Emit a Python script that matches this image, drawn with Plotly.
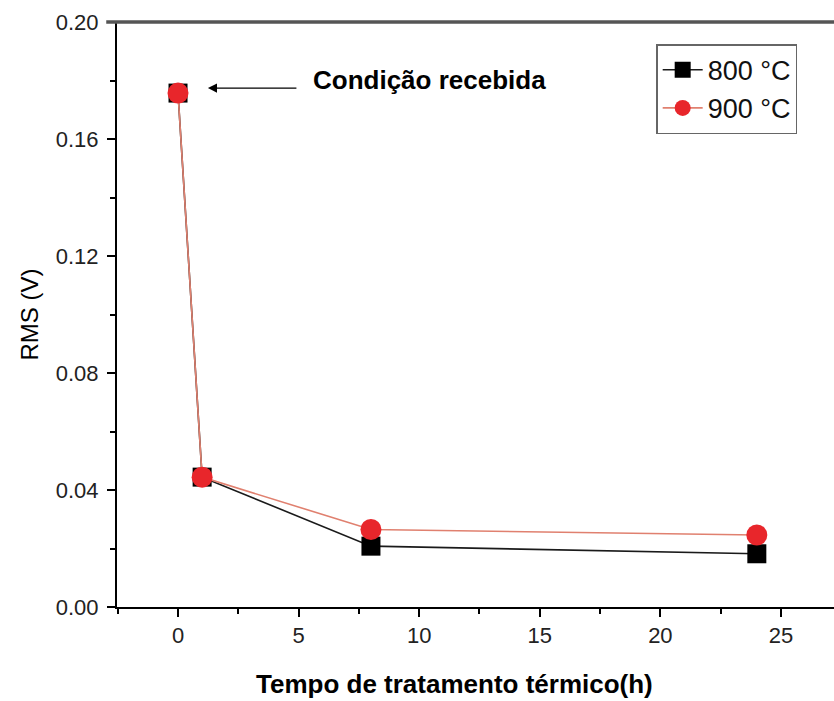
import plotly.graph_objects as go

time_h = [0, 1, 8, 24]
rms_800 = [0.1757, 0.0444, 0.0208, 0.0182]
rms_900 = [0.1757, 0.0444, 0.0265, 0.0246]
series_names = ["800 °C", "900 °C"]
x_ticks = [0, 5, 10, 15, 20, 25]
y_ticks = [0.00, 0.04, 0.08, 0.12, 0.16, 0.20]

FONT = "Liberation Sans, Arial"

fig = go.Figure()
fig.add_trace(go.Scatter(
    x=time_h, y=rms_800, name=series_names[0], mode="lines+markers",
    line=dict(color="#1a1a1a", width=1.6),
    marker=dict(symbol="square", size=19, color="black"),
))
fig.add_trace(go.Scatter(
    x=time_h, y=rms_900, name=series_names[1], mode="lines+markers",
    line=dict(color="#e0806f", width=1.6),
    marker=dict(symbol="circle", size=21, color="#e8262b"),
))

# arrow pointing at the received-condition point
fig.add_annotation(
    x=1.24, y=0.1774, xref="x", yref="y",
    ax=90, ay=0,
    text="", showarrow=True, arrowhead=2, arrowsize=1.4, arrowwidth=1.3,
    arrowcolor="black",
)
fig.add_annotation(
    x=5.5, y=0.1802, xref="x", yref="y", xanchor="left",
    text="<b>Condição recebida</b>", showarrow=False,
    font=dict(size=26, color="black", family=FONT),
)

# x-axis title (slightly left of plot centre, as in the original)
fig.add_annotation(
    x=0.471, y=-0.131, xref="paper", yref="paper", xanchor="center", yanchor="middle",
    text="<b>Tempo de tratamento térmico(h)</b>", showarrow=False,
    font=dict(size=26, color="black", family=FONT),
)

# top frame line
fig.add_shape(type="line", xref="paper", yref="paper", x0=-0.015, x1=1, y0=1, y1=1,
              line=dict(color="#555555", width=3.5))

fig.update_layout(
    width=834, height=701,
    margin=dict(l=117, r=0, t=22, b=94),
    plot_bgcolor="white", paper_bgcolor="white",
    font=dict(family=FONT, color="#222"),
    showlegend=True,
    legend=dict(x=0.752, y=0.962, xanchor="left", yanchor="top",
                bordercolor="#666", borderwidth=1.5, bgcolor="white",
                font=dict(size=27, color="#111", family=FONT), itemwidth=40,
                tracegroupgap=0),
    xaxis=dict(
        range=[-2.53, 27.2], tickvals=x_ticks, showgrid=False, zeroline=False,
        showline=True, linecolor="black", linewidth=2,
        ticks="outside", ticklen=8, tickwidth=2, tickcolor="black",
        minor=dict(ticks="outside", ticklen=5, tickwidth=2, dtick=2.5, tick0=0, tickcolor="black"),
        tickfont=dict(size=22, color="#222", family=FONT),
    ),
    yaxis=dict(
        range=[0, 0.2], tickvals=y_ticks, tickformat=".2f", showgrid=False, zeroline=False,
        showline=True, linecolor="black", linewidth=2,
        ticks="outside", ticklen=8, tickwidth=2, tickcolor="black",
        minor=dict(ticks="outside", ticklen=5, tickwidth=2, dtick=0.02, tick0=0, tickcolor="black"),
        tickfont=dict(size=22, color="#222", family=FONT),
        ticklabelstandoff=4,
        title=dict(text="RMS (V)", font=dict(size=24, color="black", family=FONT), standoff=10),
    ),
)

fig.write_html("out.html")
